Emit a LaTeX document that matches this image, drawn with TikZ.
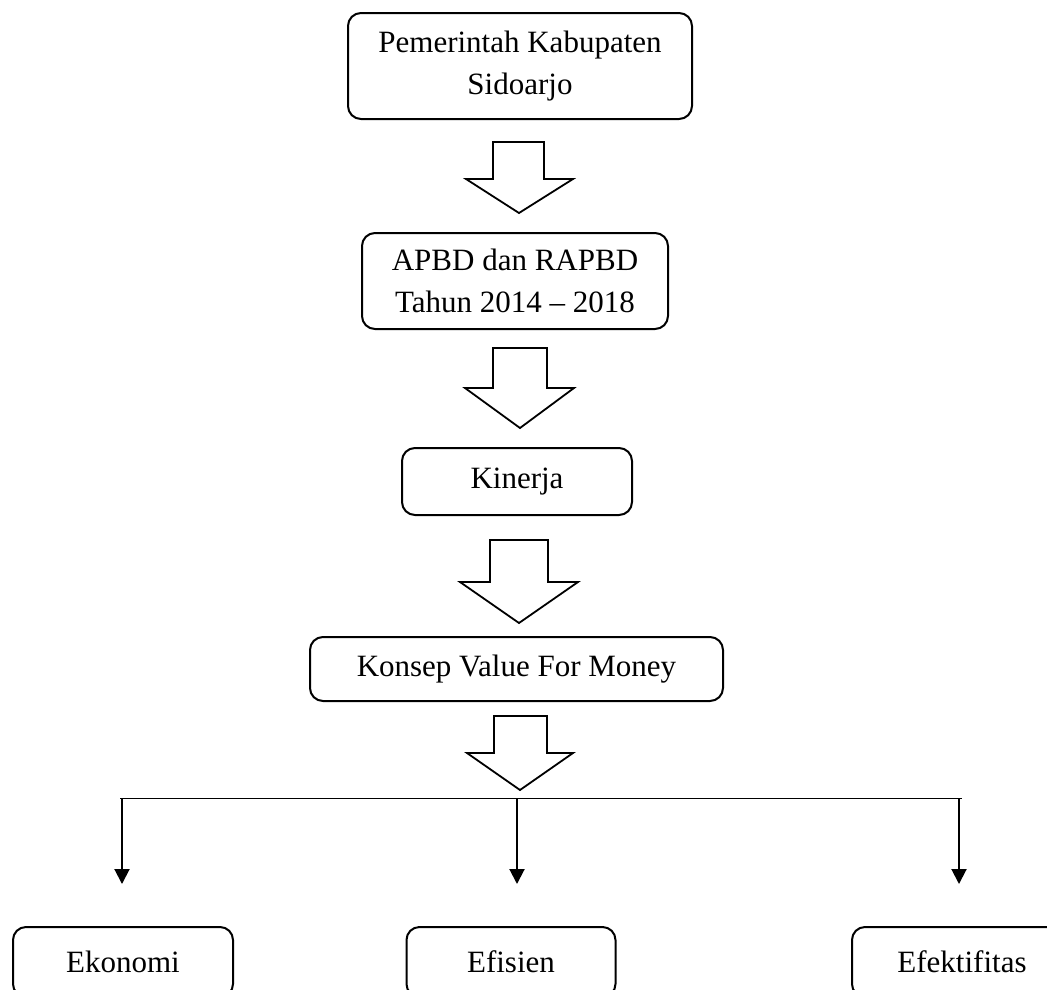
\documentclass[tikz,border=0pt]{standalone}
\usepackage{fontspec}
\setmainfont{Liberation Serif}
\usetikzlibrary{arrows.meta}
\begin{document}
\begin{tikzpicture}[x=1pt,y=-1pt,
  box/.style={draw, line width=2pt, rounded corners=13pt, inner sep=0pt, align=center,
              font=\fontsize{31}{42}\selectfont},
  blk/.style={draw, line width=1.8pt, line join=miter},
  link/.style={line width=1pt},
  down/.style={line width=2pt, -{Triangle[length=15pt,width=15pt]}}]
\useasboundingbox (0,0) rectangle (1047,989);

% boxes
\node[box, minimum width=344pt, minimum height=106pt] (pemkab) at (520,66) {Pemerintah Kabupaten\\Sidoarjo};
\node[box, minimum width=306pt, minimum height=96pt] (apbd) at (515,281) {APBD dan RAPBD\\Tahun 2014 -- 2018};
\node[box, minimum width=230pt, minimum height=67pt] (kinerja) at (517,481.5) {Kinerja};
\node[box, minimum width=413pt, minimum height=64pt] (konsep) at (516.5,669) {Konsep Value For Money};
\node[box, minimum width=220pt, minimum height=70pt] (ekonomi) at (123,962) {Ekonomi};
\node[box, minimum width=209pt, minimum height=70pt] (efisien) at (511,962) {Efisien};
\node[box, minimum width=220pt, minimum height=70pt] (efektif) at (962,962) {Efektifitas};

% block arrows
\draw[blk] (493,142) -- (544,142) -- (544,179) -- (573,179) -- (519,213) -- (466,179) -- (493,179) -- cycle;
\draw[blk] (493,348) -- (547,348) -- (547,388) -- (574,388) -- (520,428) -- (465,388) -- (493,388) -- cycle;
\draw[blk] (490,540) -- (548,540) -- (548,582) -- (578,582) -- (519,623) -- (460,582) -- (490,582) -- cycle;
\draw[blk] (494,716) -- (547,716) -- (547,753) -- (573,753) -- (520,790) -- (467,753) -- (494,753) -- cycle;

% distribution line
\coordinate (hl) at (120,798);
\coordinate (hr) at (962,798);
\draw[link] (hl) -- (hr);

\coordinate (s1) at (122,798);
\coordinate (s2) at (517,798);
\coordinate (s3) at (959,798);
\coordinate (e1) at (122,884);
\coordinate (e2) at (517,884);
\coordinate (e3) at (959,884);
\draw[down] (s1) -- (e1);
\draw[down] (s2) -- (e2);
\draw[down] (s3) -- (e3);
\end{tikzpicture}
\end{document}
